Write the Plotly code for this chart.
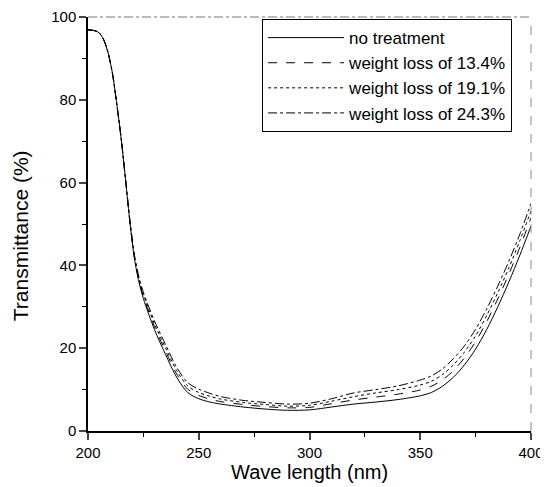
import plotly.graph_objects as go

wavelength = [200, 203, 205, 207, 209, 211, 213, 215, 217, 219, 221, 223, 225, 230, 235, 240, 245, 250, 255, 260,
              270, 280, 290, 300, 310, 320, 330, 340, 350, 355, 360, 365, 370, 375, 380, 385, 390, 395, 400]

no_treatment = [96.9, 96.7, 96.2, 94.6, 91.5, 86.5, 79, 70.5, 60.5, 50.0, 41.5, 36.0, 32.0, 24.5, 18.5, 13.0, 9.3, 7.8, 7.0, 6.5,
                5.8, 5.3, 5.0, 5.1, 5.8, 6.5, 7.0, 7.6, 8.5, 9.3, 10.8, 13.0, 16.0, 19.8, 24.5, 30.0, 36.0, 42.5, 49.5]
loss_134 = [96.9, 96.7, 96.2, 94.6, 91.5, 86.5, 79, 70.5, 60.5, 50.2, 41.8, 36.4, 32.5, 25.2, 19.3, 13.8, 10.1, 8.6, 7.7, 7.1,
            6.4, 5.9, 5.6, 5.7, 6.6, 7.5, 8.2, 8.9, 9.9, 10.8, 12.3, 14.6, 17.7, 21.6, 26.4, 31.9, 37.9, 44.4, 51.5]
loss_191 = [96.9, 96.7, 96.2, 94.6, 91.5, 86.5, 79, 70.5, 60.5, 50.4, 42.1, 36.8, 33.0, 25.9, 20.1, 14.6, 10.9, 9.3, 8.4, 7.7,
            6.9, 6.4, 6.0, 6.2, 7.2, 8.3, 9.2, 10.0, 11.1, 12.0, 13.6, 16.0, 19.1, 23.0, 27.9, 33.4, 39.4, 46.0, 53.2]
loss_243 = [96.9, 96.7, 96.2, 94.6, 91.5, 86.5, 79, 70.5, 60.5, 50.6, 42.4, 37.2, 33.5, 26.6, 20.9, 15.4, 11.7, 10.1, 9.1, 8.3,
            7.4, 6.9, 6.5, 6.7, 7.8, 9.2, 10.0, 10.9, 12.3, 13.3, 15.0, 17.5, 20.6, 24.6, 29.5, 35.0, 41.0, 47.6, 55.0]

series_names = ["no treatment", "weight loss of 13.4%", "weight loss of 19.1%", "weight loss of 24.3%"]
series_values = [no_treatment, loss_134, loss_191, loss_243]
dashes = ["solid", "dash", "dot", "dashdot"]

x_ticks = [200, 250, 300, 350, 400]
y_ticks = [0, 20, 40, 60, 80, 100]
x_title = "Wave length (nm)"
y_title = "Transmittance (%)"

FONT = "Liberation Sans, Arial, sans-serif"

fig = go.Figure()
for name, vals, d in zip(series_names, series_values, dashes):
    fig.add_trace(go.Scatter(
        x=wavelength, y=vals, name=name, mode="lines",
        line=dict(color="black", width=1, dash=d, shape="spline", smoothing=0.8),
    ))

# the page body adds an 8px offset, so the figure is 540x479 to fill the 548x487 window
fig.update_layout(
    width=540, height=479,
    margin=dict(l=80, r=17, t=9, b=56),
    paper_bgcolor="white", plot_bgcolor="white",
    font=dict(family=FONT, color="black", size=15),
    showlegend=True,
    legend=dict(
        x=0.393, y=0.995, xanchor="left", yanchor="top",
        bordercolor="black", borderwidth=1, bgcolor="white",
        font=dict(size=17, family=FONT), tracegroupgap=0,
        itemwidth=76,
    ),
)

fig.update_xaxes(
    range=[200, 400], tickvals=x_ticks, ticks="outside", ticklen=7, tickwidth=1.5,
    showline=True, linecolor="black", linewidth=1.5, showgrid=False, zeroline=False,
    minor=dict(dtick=25, ticks="outside", ticklen=4, tickcolor="black", tickwidth=1),
    tickfont=dict(size=15), automargin=False,
)
fig.update_yaxes(
    range=[0, 100], tickvals=y_ticks, ticks="outside", ticklen=7, tickwidth=1.5,
    showline=True, linecolor="black", linewidth=1.5, showgrid=False, zeroline=False,
    minor=dict(dtick=10, ticks="outside", ticklen=4, tickcolor="black", tickwidth=1),
    tickfont=dict(size=15), automargin=False,
)

fig.add_annotation(text=x_title, xref="paper", yref="paper", x=0.5, y=-0.099,
                   xanchor="center", yanchor="middle", showarrow=False, font=dict(size=20))
fig.add_annotation(text=y_title, xref="paper", yref="paper", x=-0.1535, y=0.473,
                   xanchor="center", yanchor="middle", textangle=-90, showarrow=False, font=dict(size=21))

# faint top and right frame lines as in the scanned original
fig.add_shape(type="line", xref="paper", yref="paper", x0=0, x1=1, y0=1, y1=1,
              line=dict(color="#777777", width=1, dash="dashdot"))
fig.add_shape(type="line", xref="paper", yref="paper", x0=1, x1=1, y0=0, y1=1,
              line=dict(color="#888888", width=1, dash="dash"))

fig.write_html("out.html")
